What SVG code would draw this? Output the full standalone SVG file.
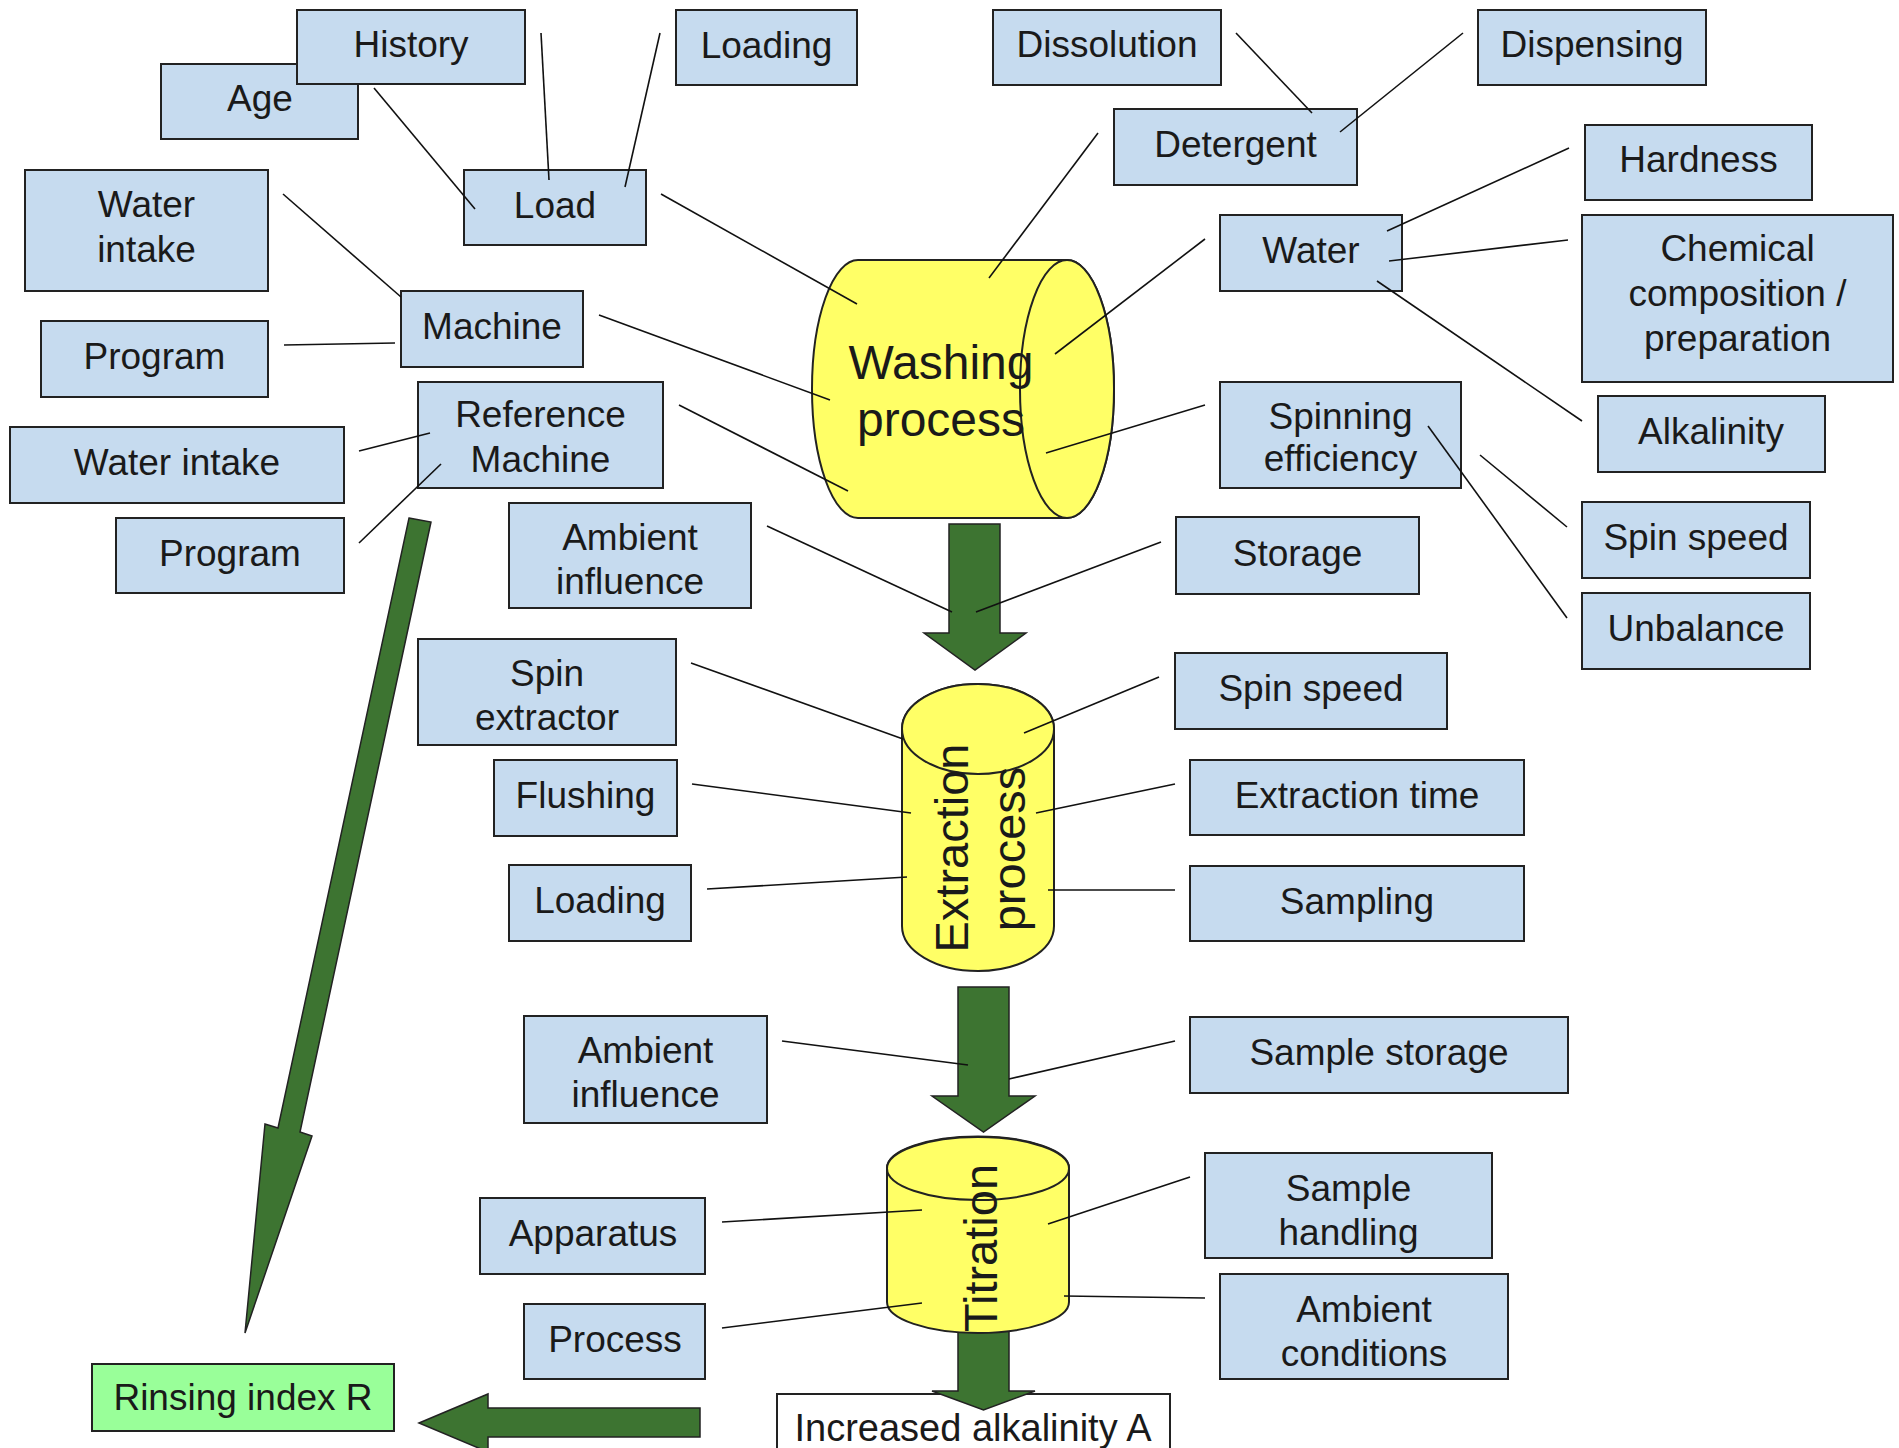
<svg xmlns="http://www.w3.org/2000/svg" width="1899" height="1448" viewBox="0 0 1899 1448">
<style>
.box{fill:#c6dbef;stroke:#222;stroke-width:2}
.res{fill:#99ff99;stroke:#222;stroke-width:2}
.out{fill:#ffffff;stroke:#222;stroke-width:2}
.lbl{font-family:"Liberation Sans",Arial,sans-serif;font-size:37px;fill:#1a1a1a;text-anchor:middle}
.cyl{fill:#ffff66;stroke:#222;stroke-width:2}
.ttl{font-family:"Liberation Sans",Arial,sans-serif;font-size:47px;fill:#1a1a1a;text-anchor:middle}
.con line{stroke:#111;stroke-width:1.6;fill:none}
.flow{fill:#3d7431;stroke:#222;stroke-width:1.5;stroke-linejoin:miter}
</style>
<rect width="1899" height="1448" fill="#ffffff"/>

<g id="node-increased-alkalinity">
<rect class="out" x="777" y="1394" width="393" height="70"/>
<text class="lbl" x="973" y="1441" style="font-size:38px">Increased alkalinity A</text>
</g>

<g id="flow-arrows">
<polygon class="flow" points="949,524 1000,524 1000,633 1026,633 975,670 924,633 949,633"/>
<polygon class="flow" points="958,987 1009,987 1009,1096 1035,1096 983.5,1132 932,1096 958,1096"/>
<polygon class="flow" points="958,1300 1009,1300 1009,1391 1035,1391 983.5,1410 932,1391 958,1391"/>
<polygon class="flow" points="409,518 431,522 300,1132 312,1136 245,1333 265,1124 278,1128"/>
<polygon class="flow" points="419,1423 488,1394 488,1408 700,1408 700,1437 488,1437 488,1452"/>
</g>

<g id="node-washing">
<path class="cyl" d="M858,260 L1067,260 A47,129 0 0 1 1067,518 L858,518 A46,129 0 0 1 858,260 Z"/>
<ellipse class="cyl" cx="1067" cy="389" rx="47" ry="129" fill="none"/>
<text class="ttl" x="941" y="379" style="font-size:48px">Washing</text>
<text class="ttl" x="941" y="436" style="font-size:48px">process</text>
</g>

<g id="node-extraction">
<path class="cyl" d="M902,729 L902,926 A76,45 0 0 0 1054,926 L1054,729 A76,45 0 0 0 902,729 Z"/>
<ellipse class="cyl" cx="978" cy="729" rx="76" ry="45"/>
<text class="ttl" transform="translate(968,848) rotate(-90)" x="0" y="0">Extraction</text>
<text class="ttl" transform="translate(1025,849) rotate(-90)" x="0" y="0">process</text>
</g>

<g id="node-titration">
<path class="cyl" d="M887,1168 L887,1302 A91,31 0 0 0 1069,1302 L1069,1168 A91,31.5 0 0 0 887,1168 Z"/>
<ellipse class="cyl" cx="978" cy="1168.5" rx="91" ry="31.5"/>
<text class="ttl" transform="translate(997,1248) rotate(-90)" x="0" y="0">Titration</text>
</g>

<g id="node-age"><rect class="box" x="161" y="64" width="197" height="75"/><text class="lbl" x="260" y="111">Age</text></g>
<g id="node-history"><rect class="box" x="297" y="10" width="228" height="74"/><text class="lbl" x="411" y="57">History</text></g>
<g id="node-loading-top"><rect class="box" x="676" y="10" width="181" height="75"/><text class="lbl" x="766.5" y="57.5">Loading</text></g>
<g id="node-dissolution"><rect class="box" x="993" y="10" width="228" height="75"/><text class="lbl" x="1107" y="57">Dissolution</text></g>
<g id="node-dispensing"><rect class="box" x="1478" y="10" width="228" height="75"/><text class="lbl" x="1592" y="57">Dispensing</text></g>
<g id="node-detergent"><rect class="box" x="1114" y="109" width="243" height="76"/><text class="lbl" x="1235.5" y="157">Detergent</text></g>
<g id="node-hardness"><rect class="box" x="1585" y="125" width="227" height="75"/><text class="lbl" x="1698.5" y="172">Hardness</text></g>
<g id="node-load"><rect class="box" x="464" y="170" width="182" height="75"/><text class="lbl" x="555" y="217.5">Load</text></g>
<g id="node-water-intake-1"><rect class="box" x="25" y="170" width="243" height="121"/><text class="lbl" x="146.5" y="217">Water</text><text class="lbl" x="146.5" y="261.5">intake</text></g>
<g id="node-water"><rect class="box" x="1220" y="215" width="182" height="76"/><text class="lbl" x="1311" y="263">Water</text></g>
<g id="node-chemical"><rect class="box" x="1582" y="215" width="311" height="167"/><text class="lbl" x="1737.5" y="261">Chemical</text><text class="lbl" x="1737.5" y="306">composition /</text><text class="lbl" x="1737.5" y="351">preparation</text></g>
<g id="node-machine"><rect class="box" x="401" y="291" width="182" height="76"/><text class="lbl" x="492" y="339">Machine</text></g>
<g id="node-program-1"><rect class="box" x="41" y="321" width="227" height="76"/><text class="lbl" x="154.5" y="369">Program</text></g>
<g id="node-reference-machine"><rect class="box" x="418" y="382" width="245" height="106"/><text class="lbl" x="540.5" y="427">Reference</text><text class="lbl" x="540.5" y="472">Machine</text></g>
<g id="node-spinning-efficiency"><rect class="box" x="1220" y="382" width="241" height="106"/><text class="lbl" x="1340.5" y="429">Spinning</text><text class="lbl" x="1340.5" y="471">efficiency</text></g>
<g id="node-alkalinity"><rect class="box" x="1598" y="396" width="227" height="76"/><text class="lbl" x="1711" y="444">Alkalinity</text></g>
<g id="node-water-intake-2"><rect class="box" x="10" y="427" width="334" height="76"/><text class="lbl" x="177" y="475">Water intake</text></g>
<g id="node-program-2"><rect class="box" x="116" y="518" width="228" height="75"/><text class="lbl" x="230" y="565.5">Program</text></g>
<g id="node-ambient-influence-1"><rect class="box" x="509" y="503" width="242" height="105"/><text class="lbl" x="630" y="549.5">Ambient</text><text class="lbl" x="630" y="594">influence</text></g>
<g id="node-storage"><rect class="box" x="1176" y="517" width="243" height="77"/><text class="lbl" x="1297.5" y="565.5">Storage</text></g>
<g id="node-spin-speed-1"><rect class="box" x="1582" y="502" width="228" height="76"/><text class="lbl" x="1696" y="550">Spin speed</text></g>
<g id="node-unbalance"><rect class="box" x="1582" y="593" width="228" height="76"/><text class="lbl" x="1696" y="641">Unbalance</text></g>
<g id="node-spin-extractor"><rect class="box" x="418" y="639" width="258" height="106"/><text class="lbl" x="547" y="686">Spin</text><text class="lbl" x="547" y="730">extractor</text></g>
<g id="node-spin-speed-2"><rect class="box" x="1175" y="653" width="272" height="76"/><text class="lbl" x="1311" y="701">Spin speed</text></g>
<g id="node-flushing"><rect class="box" x="494" y="760" width="183" height="76"/><text class="lbl" x="585.5" y="808">Flushing</text></g>
<g id="node-extraction-time"><rect class="box" x="1190" y="760" width="334" height="75"/><text class="lbl" x="1357" y="807.5">Extraction time</text></g>
<g id="node-loading-2"><rect class="box" x="509" y="865" width="182" height="76"/><text class="lbl" x="600" y="913">Loading</text></g>
<g id="node-sampling"><rect class="box" x="1190" y="866" width="334" height="75"/><text class="lbl" x="1357" y="913.5">Sampling</text></g>
<g id="node-ambient-influence-2"><rect class="box" x="524" y="1016" width="243" height="107"/><text class="lbl" x="645.5" y="1063">Ambient</text><text class="lbl" x="645.5" y="1107">influence</text></g>
<g id="node-sample-storage"><rect class="box" x="1190" y="1017" width="378" height="76"/><text class="lbl" x="1379" y="1065">Sample storage</text></g>
<g id="node-sample-handling"><rect class="box" x="1205" y="1153" width="287" height="105"/><text class="lbl" x="1348.5" y="1201">Sample</text><text class="lbl" x="1348.5" y="1245">handling</text></g>
<g id="node-apparatus"><rect class="box" x="480" y="1198" width="225" height="76"/><text class="lbl" x="593" y="1246">Apparatus</text></g>
<g id="node-ambient-conditions"><rect class="box" x="1220" y="1274" width="288" height="105"/><text class="lbl" x="1364" y="1322">Ambient</text><text class="lbl" x="1364" y="1366">conditions</text></g>
<g id="node-process"><rect class="box" x="524" y="1304" width="181" height="75"/><text class="lbl" x="615" y="1351.5">Process</text></g>
<g id="node-rinsing-index"><rect class="res" x="92" y="1364" width="302" height="67"/><text class="lbl" x="243" y="1410">Rinsing index R</text></g>

<g id="connectors" class="con">
<line x1="374" y1="88" x2="475" y2="209"/>
<line x1="541" y1="33" x2="549" y2="180"/>
<line x1="660" y1="33" x2="625" y2="187"/>
<line x1="661" y1="194" x2="857" y2="304"/>
<line x1="283" y1="194" x2="401" y2="297"/>
<line x1="284" y1="345" x2="395" y2="343"/>
<line x1="599" y1="315" x2="830" y2="400"/>
<line x1="679" y1="405" x2="848" y2="491"/>
<line x1="359" y1="451" x2="430" y2="433"/>
<line x1="359" y1="543" x2="441" y2="464"/>
<line x1="1098" y1="133" x2="989" y2="278"/>
<line x1="1236" y1="33" x2="1312" y2="113"/>
<line x1="1463" y1="33" x2="1340" y2="132"/>
<line x1="1205" y1="239" x2="1055" y2="354"/>
<line x1="1387" y1="231" x2="1569" y2="148"/>
<line x1="1389" y1="261" x2="1568" y2="240"/>
<line x1="1377" y1="281" x2="1582" y2="421"/>
<line x1="1205" y1="405" x2="1046" y2="453"/>
<line x1="1480" y1="455" x2="1567" y2="527"/>
<line x1="1428" y1="426" x2="1567" y2="618"/>
<line x1="767" y1="526" x2="952" y2="612"/>
<line x1="1161" y1="542" x2="976" y2="612"/>
<line x1="691" y1="663" x2="903" y2="739"/>
<line x1="1159" y1="677" x2="1024" y2="733"/>
<line x1="692" y1="784" x2="911" y2="813"/>
<line x1="1175" y1="784" x2="1036" y2="813"/>
<line x1="707" y1="889" x2="907" y2="877"/>
<line x1="1048" y1="890" x2="1175" y2="890"/>
<line x1="782" y1="1041" x2="968" y2="1065"/>
<line x1="1175" y1="1041" x2="1009" y2="1079"/>
<line x1="722" y1="1222" x2="922" y2="1210"/>
<line x1="722" y1="1328" x2="922" y2="1303"/>
<line x1="1190" y1="1177" x2="1048" y2="1224"/>
<line x1="1064" y1="1296" x2="1205" y2="1298"/>
</g>
</svg>
